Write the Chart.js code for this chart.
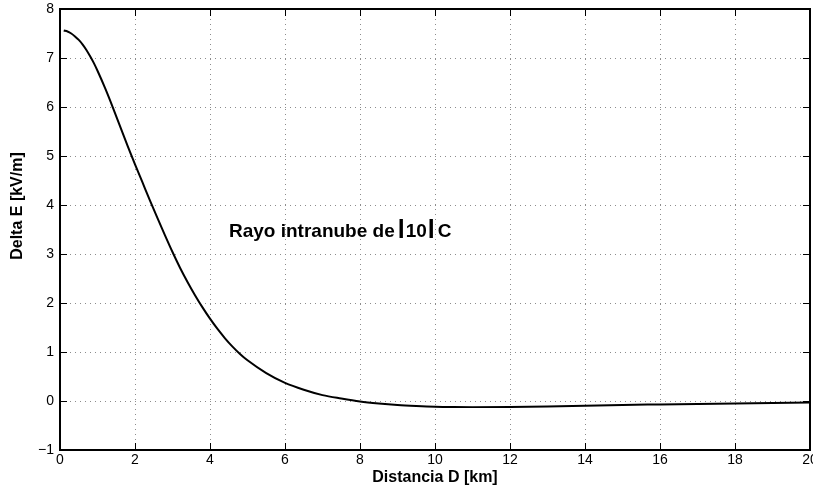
<!DOCTYPE html>
<html>
<head>
<meta charset="utf-8">
<script src="https://cdn.jsdelivr.net/npm/chart.js@4/dist/chart.umd.min.js"></script>
<style>
  html, body { margin: 0; padding: 0; background: #fff; }
  #wrap { width: 813px; height: 491px; }
</style>
</head>
<body>
<div id="wrap"><canvas id="deltaChart"></canvas></div>
<script>
// Distance (km) and field change (kV/m)
const distancia = [0.1, 0.2, 0.3, 0.4, 0.5, 0.6, 0.7, 0.8, 0.9, 1.0, 1.2, 1.4, 1.6, 1.8, 2.0,
    2.2, 2.4, 2.6, 2.8, 3.0, 3.2, 3.4, 3.6, 3.8, 4.0, 4.2, 4.4, 4.6, 4.8, 5.0, 5.5, 6.0,
    6.5, 7.0, 7.5, 8.0, 8.5, 9.0, 9.5, 10, 10.5, 11, 12, 13, 14, 15, 16, 17, 18, 19, 20];
const deltaE = [7.56, 7.54, 7.5, 7.44, 7.37, 7.28, 7.17, 7.04, 6.9, 6.74, 6.39, 6.01, 5.61, 5.21, 4.83,
    4.46, 4.09, 3.73, 3.38, 3.04, 2.72, 2.43, 2.16, 1.91, 1.68, 1.47, 1.28, 1.11, 0.96, 0.83, 0.57, 0.37,
    0.23, 0.12, 0.05, -0.01, -0.05, -0.08, -0.1, -0.115, -0.122, -0.125, -0.12, -0.11, -0.095, -0.08, -0.07, -0.06, -0.05, -0.04, -0.03];
const xTicks = [0, 2, 4, 6, 8, 10, 12, 14, 16, 18, 20];
const yTicks = [-1, 0, 1, 2, 3, 4, 5, 6, 7, 8];

const FONT = '"Liberation Sans", Arial, Helvetica, sans-serif';

// Frame, inward ticks, axis titles and the text label
const matlabDecor = {
    id: 'matlabDecor',
    afterDraw(chart) {
        const ctx = chart.ctx;
        const a = chart.chartArea;
        const xs = chart.scales.x, ys = chart.scales.y;
        ctx.save();
        ctx.strokeStyle = '#000';
        ctx.lineWidth = 1;
        xTicks.forEach(v => {
            const px = Math.round(xs.getPixelForValue(v)) + 0.5;
            ctx.beginPath();
            ctx.moveTo(px, a.bottom); ctx.lineTo(px, a.bottom - 7);
            ctx.moveTo(px, a.top); ctx.lineTo(px, a.top + 7);
            ctx.stroke();
        });
        yTicks.forEach(v => {
            const py = Math.round(ys.getPixelForValue(v)) + 0.5;
            ctx.beginPath();
            ctx.moveTo(a.left, py); ctx.lineTo(a.left + 7, py);
            ctx.moveTo(a.right, py); ctx.lineTo(a.right - 7, py);
            ctx.stroke();
        });
        ctx.lineWidth = 2;
        ctx.strokeRect(a.left, a.top, a.right - a.left, a.bottom - a.top);

        ctx.fillStyle = '#000';
        ctx.font = 'bold 16px ' + FONT;
        ctx.textAlign = 'center';
        ctx.textBaseline = 'middle';
        ctx.fillText('Distancia D [km]', (a.left + a.right) / 2, 478);
        ctx.save();
        ctx.translate(18, 206);
        ctx.rotate(-Math.PI / 2);
        ctx.fillText('Delta E [kV/m]', 0, 0);
        ctx.restore();

        // "Rayo intranube de |10| C"
        ctx.textAlign = 'left';
        ctx.textBaseline = 'alphabetic';
        let x = 229;
        const base = 237;
        const parts = [
            ['Rayo intranube de', 'bold 19px ' + FONT, 3],
            ['l', 'bold 25px ' + FONT, 1],
            ['10', 'bold 19px ' + FONT, 1],
            ['l', 'bold 25px ' + FONT, 3],
            ['C', 'bold 19px ' + FONT, 0]
        ];
        parts.forEach(p => {
            ctx.font = p[1];
            ctx.fillText(p[0], x, base + (p[0] === 'l' ? 1 : 0));
            x += ctx.measureText(p[0]).width + p[2];
        });
        ctx.restore();
    }
};

new Chart(document.getElementById('deltaChart'), {
    type: 'line',
    data: {
        datasets: [{
            data: distancia.map((d, i) => ({ x: d, y: deltaE[i] })),
            borderColor: '#000',
            borderWidth: 2,
            pointRadius: 0,
            fill: false,
            cubicInterpolationMode: 'monotone'
        }]
    },
    options: {
        responsive: true,
        maintainAspectRatio: false,
        animation: false,
        layout: { padding: { top: 9, right: 3, left: 0, bottom: 0 } },
        plugins: {
            legend: { display: false },
            tooltip: { enabled: false }
        },
        scales: {
            x: {
                type: 'linear',
                min: 0,
                max: 20,
                afterFit(scale) {
                    scale.height = 41;
                    scale.paddingLeft = 0;
                    scale.paddingRight = 0;
                },
                afterBuildTicks(scale) { scale.ticks = xTicks.map(v => ({ value: v })); },
                ticks: {
                    color: '#000',
                    font: { family: FONT, size: 14 },
                    padding: 2,
                    maxRotation: 0,
                    autoSkip: false
                },
                grid: { color: '#8c8c8c', lineWidth: 1, drawTicks: false },
                border: { display: false, dash: [1, 4] }
            },
            y: {
                min: -1,
                max: 8,
                afterFit(scale) {
                    scale.width = 60;
                    scale.paddingTop = 0;
                    scale.paddingBottom = 0;
                },
                afterBuildTicks(scale) { scale.ticks = yTicks.map(v => ({ value: v })); },
                ticks: {
                    color: '#000',
                    font: { family: FONT, size: 14 },
                    padding: 6,
                    autoSkip: false,
                    callback: v => String(v).replace('-', '\u2212')
                },
                grid: { color: '#8c8c8c', lineWidth: 1, drawTicks: false },
                border: { display: false, dash: [1, 4] }
            }
        }
    },
    plugins: [matlabDecor]
});
</script>
</body>
</html>
